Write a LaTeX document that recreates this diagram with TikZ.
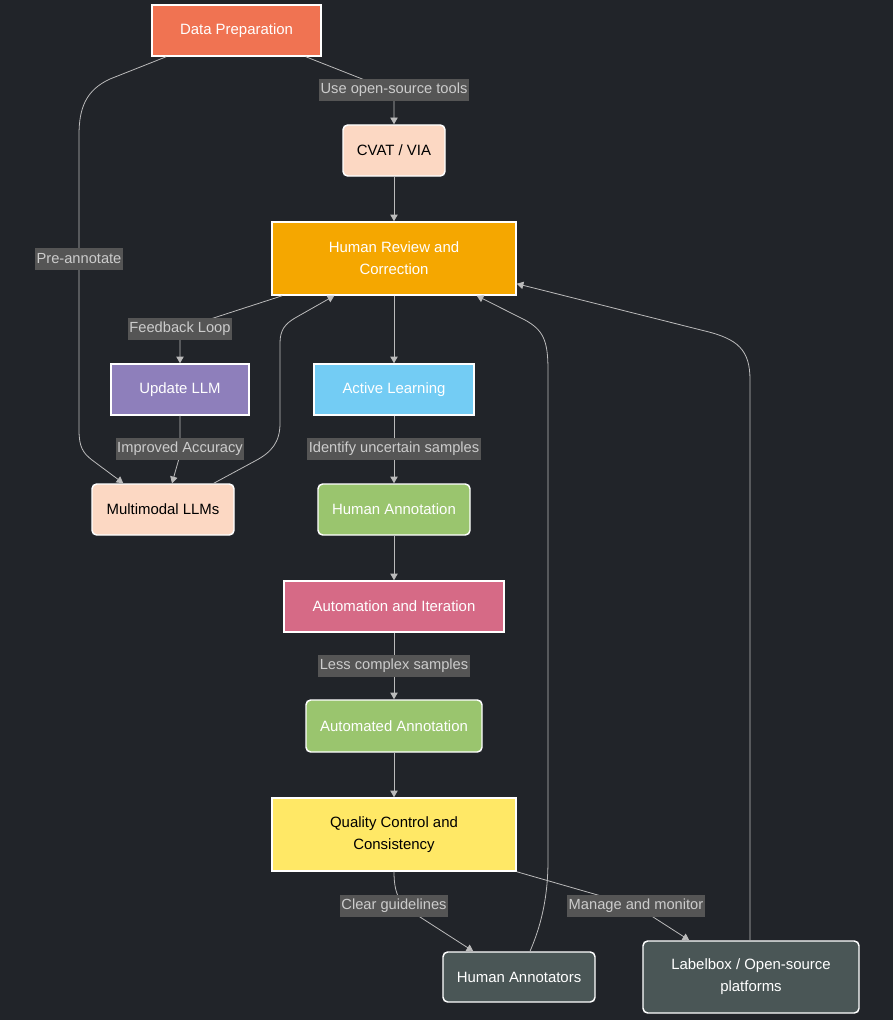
\documentclass[tikz,border=0pt]{standalone}
\usepackage{fontspec}
\setmainfont{Liberation Sans}
\usetikzlibrary{arrows.meta,calc}
\definecolor{bgc}{HTML}{212429}
\definecolor{prepc}{HTML}{F07352}
\definecolor{peachc}{HTML}{FCD8C3}
\definecolor{orangec}{HTML}{F5A700}
\definecolor{purplec}{HTML}{8E7FBB}
\definecolor{bluec}{HTML}{73CCF4}
\definecolor{greenc}{HTML}{9AC56E}
\definecolor{pinkc}{HTML}{D66A86}
\definecolor{yellowc}{HTML}{FFE866}
\definecolor{slatec}{HTML}{4A5656}
\definecolor{lblbg}{HTML}{555555}
\definecolor{lbltxt}{HTML}{CCCCCC}
\definecolor{linec}{HTML}{BBBBBB}
\tikzset{
    box/.style={draw=white, line width=1.1pt, text=white, align=center, inner sep=0pt,
        font=\fontsize{11.2}{16.5}\selectfont},
    rbox/.style={box, rounded corners=3.5pt},
    sz/.style 2 args={minimum width=#1*0.75pt, minimum height=#2*0.75pt},
    lbl/.style={fill=lblbg, text=lbltxt, inner xsep=1pt, inner ysep=0pt, minimum height=17pt,
        font=\fontsize{11}{12}\selectfont},
    link/.style={draw=linec, line width=0.6pt, -{Triangle[length=5pt,width=5.5pt]}}
}
\begin{document}
\begin{tikzpicture}[x=0.75pt, y=-0.75pt]
        \fill[bgc] (0,0) rectangle (893,1020);
        \node[box, fill=prepc, sz={169}{51}] (prep) at (236.5,30.5) {Data Preparation};
        \node[rbox, fill=peachc, text=black, sz={102}{51}] (cvat) at (394,150.5) {CVAT / VIA};
        \node[box, fill=orangec, sz={244}{73}] (review) at (394,258.5) {Human Review and\\Correction};
        \node[box, fill=purplec, sz={138}{51}] (llmup) at (180,389.5) {Update LLM};
        \node[box, fill=bluec, sz={160}{51}] (active) at (394,389.5) {Active Learning};
        \node[rbox, fill=peachc, text=black, sz={142}{51}] (mllm) at (163,509.5) {Multimodal LLMs};
        \node[rbox, fill=greenc, sz={152}{51}] (hann) at (394,509.5) {Human Annotation};
        \node[box, fill=pinkc, sz={220}{51}] (auto) at (394,606.5) {Automation and Iteration};
        \node[rbox, fill=greenc, sz={176}{52}] (autoann) at (394,726) {Automated Annotation};
        \node[box, fill=yellowc, text=black, sz={244}{73}] (qc) at (394,834.5) {Quality Control and\\Consistency};
        \node[rbox, fill=slatec, sz={152}{50}] (annot) at (519,977) {Human Annotators};
        \node[rbox, fill=slatec, sz={216}{72}] (lbox) at (751,977) {Labelbox / Open-source\\platforms};

        \draw[link] ($(prep.south west)+(15,0)$) -- (110,79) .. controls (86,90) and (79,108) .. (79,135)
            -- (79,430) .. controls (79,447) and (83,453) .. (92,460) -- ($(mllm.north west)+(32,0)$);
        \draw[link] ($(prep.south east)+(-16,0)$) -- (380,86) .. controls (391,90) .. (394,97) -- (cvat.north);
        \draw[link] (cvat) -- (review);
        \draw[link] ($(review.south west)+(11,0)$) -- (195,324) .. controls (183,328) .. (180,334) -- (llmup.north);
        \draw[link] (review) -- (active);
        \draw[link] (llmup.south) -- (180,455) -- ($(mllm.north)+(9,0)$);
        \draw[link] ($(mllm.north east)+(-21,0)$) -- (255,461) .. controls (272,452) and (280,442) .. (280,423)
            -- (280,343) .. controls (280,330) and (285,324) .. (295,318) -- ($(review.south west)+(63,0)$);
        \draw[link] (active) -- (hann);
        \draw[link] (hann) -- (auto);
        \draw[link] (auto) -- (autoann);
        \draw[link] (autoann) -- (qc);
        \draw[link] (qc.south) .. controls (394,895) and (400,906) .. (420,917) -- ($(annot.north west)+(31,0)$);
        \draw[link] (qc.south east) -- (636,906) -- ($(lbox.north west)+(47,0)$);
        \draw[link] ($(annot.north)+(11,0)$) .. controls (540,928) and (548,900) .. (548,860)
            -- (548,370) .. controls (548,340) and (543,330) .. (525,320) -- ($(review.south east)+(-40,0)$);
        \draw[link] ($(lbox.north)+(-1,0)$) -- (750,380) .. controls (750,350) and (738,339) .. (705,331)
            -- ($(review.south east)+(0,-12)$);

        \node[lbl] (lopen) at (394,90) {Use open-source tools};
        \node[lbl] (lpre) at (79,259) {Pre-annotate};
        \node[lbl] (lfeed) at (180,329) {Feedback Loop};
        \node[lbl] (limpr) at (180,449) {Improved Accuracy};
        \node[lbl] (lident) at (394,449) {Identify uncertain samples};
        \node[lbl] (lless) at (394,666) {Less complex samples};
        \node[lbl] (lclear) at (394,906) {Clear guidelines};
        \node[lbl] (lmanage) at (636,906) {Manage and monitor};
\end{tikzpicture}
\end{document}
